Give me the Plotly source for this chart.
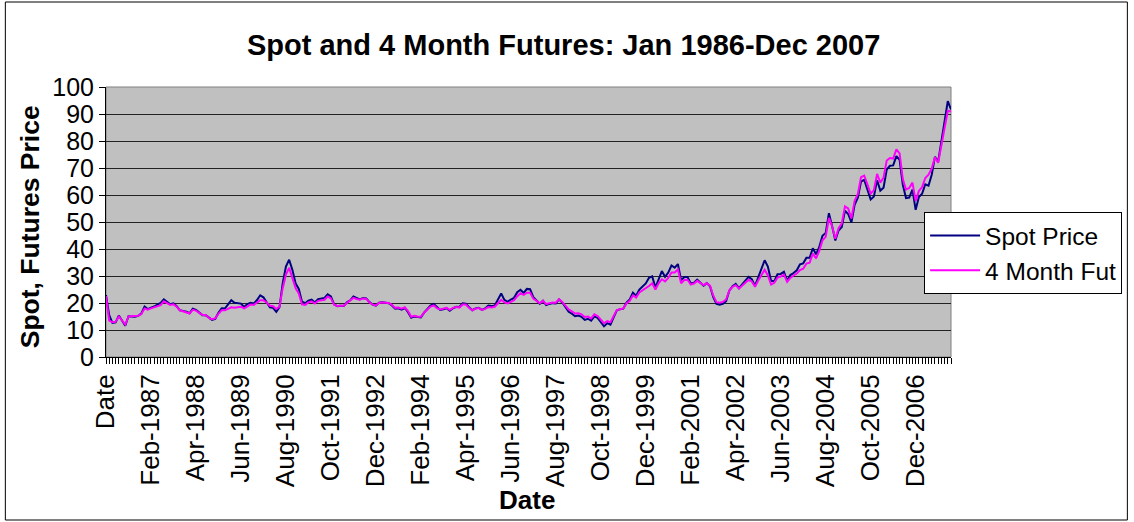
import plotly.graph_objects as go

months = ["Jan", "Feb", "Mar", "Apr", "May", "Jun", "Jul", "Aug", "Sep", "Oct", "Nov", "Dec"]
years = list(range(1986, 2008))

# category labels as in the source sheet: header "Date" then the months
categories = ["Date"] + [f"{m}-{y}" for y in years for m in months][:-1]

spot = [
    22.93, 15.46, 12.61, 12.84, 15.38, 13.43, 11.59, 15.10, 14.87, 14.90, 15.22, 16.11,
    18.65, 17.75, 18.30, 18.68, 19.44, 20.07, 21.34, 20.31, 19.53, 19.86, 18.85, 17.28,
    17.13, 16.80, 16.20, 17.86, 17.42, 16.53, 15.50, 15.52, 14.54, 13.77, 14.14, 16.38,
    18.02, 17.94, 19.48, 21.07, 20.12, 20.05, 19.78, 18.58, 19.59, 20.10, 19.86, 21.10,
    22.86, 22.11, 20.39, 18.43, 18.20, 16.70, 18.45, 27.31, 33.51, 36.04, 32.33, 27.28,
    25.23, 20.48, 19.90, 20.83, 21.23, 20.19, 21.40, 21.69, 21.89, 23.23, 22.46, 19.50,
    18.79, 19.01, 18.92, 20.23, 20.98, 22.39, 21.78, 21.34, 21.88, 21.69, 20.34, 19.41,
    19.03, 20.09, 20.32, 20.25, 19.95, 19.09, 17.89, 18.01, 17.50, 18.15, 16.61, 14.52,
    15.03, 14.78, 14.68, 16.42, 17.89, 19.06, 19.66, 18.38, 17.45, 17.72, 18.07, 17.16,
    18.04, 18.57, 18.54, 19.90, 19.74, 18.45, 17.33, 18.02, 18.23, 17.43, 17.99, 19.03,
    18.85, 19.09, 21.33, 23.50, 21.17, 20.42, 21.30, 21.90, 23.97, 24.88, 23.71, 25.23,
    25.13, 22.18, 20.97, 19.70, 20.82, 19.26, 19.66, 19.95, 19.80, 21.33, 20.19, 18.33,
    16.72, 16.06, 15.12, 15.35, 14.91, 13.72, 14.17, 13.47, 15.03, 14.46, 13.00, 11.35,
    12.52, 12.01, 14.68, 17.31, 17.72, 17.92, 20.10, 21.28, 23.80, 22.69, 25.00, 26.10,
    27.26, 29.37, 29.84, 25.72, 28.79, 31.82, 29.70, 31.26, 33.88, 33.11, 34.42, 28.44,
    29.59, 29.61, 27.25, 27.49, 28.63, 27.60, 26.43, 27.37, 26.20, 22.17, 19.64, 19.39,
    19.72, 20.72, 24.53, 26.18, 27.04, 25.52, 26.97, 28.39, 29.66, 28.84, 26.35, 29.46,
    32.95, 35.83, 33.51, 28.17, 28.11, 30.66, 30.76, 31.57, 28.31, 30.34, 31.11, 32.13,
    34.31, 34.69, 36.74, 36.75, 40.28, 38.03, 40.78, 44.90, 45.94, 53.28, 48.47, 43.15,
    46.84, 48.15, 54.19, 52.98, 49.83, 56.35, 59.00, 64.99, 65.59, 62.26, 58.32, 59.41,
    65.49, 61.63, 62.69, 69.44, 70.84, 70.95, 74.41, 73.04, 63.80, 58.89, 59.08, 61.96,
    54.51, 59.28, 60.44, 63.98, 63.46, 67.49, 74.12, 72.36, 79.92, 85.80, 94.77, 91.69,
]

fut4 = [
    22.5, 13.5, 12.9, 13.0, 15.0, 13.5, 12.0, 15.0, 15.0, 15.2, 15.3, 15.9,
    18.0, 17.5, 18.0, 18.4, 18.8, 19.2, 20.6, 19.8, 19.3, 19.5, 18.6, 17.3,
    16.9, 16.6, 16.1, 17.5, 17.2, 16.4, 15.6, 15.6, 14.5, 14.0, 14.3, 16.0,
    17.3, 17.3, 18.0, 18.4, 18.2, 18.5, 18.6, 18.0, 18.8, 19.4, 19.3, 20.0,
    21.0, 21.0, 20.2, 19.0, 18.8, 17.8, 18.6, 25.5, 30.5, 33.0, 29.5, 25.5,
    23.5, 19.5, 19.3, 20.2, 20.6, 19.8, 20.8, 21.0, 21.2, 22.4, 21.7, 19.4,
    18.9, 19.0, 19.0, 20.0, 20.8, 21.9, 21.5, 21.2, 21.7, 21.5, 20.2, 19.4,
    19.1, 20.0, 20.2, 20.2, 20.0, 19.3, 18.2, 18.3, 17.9, 18.4, 17.0, 14.9,
    15.3, 14.9, 14.9, 16.4, 17.7, 18.7, 19.1, 18.1, 17.6, 17.9, 18.2, 17.5,
    18.2, 18.5, 18.3, 19.4, 19.4, 18.2, 17.3, 17.9, 18.1, 17.4, 17.8, 18.5,
    18.3, 18.6, 19.9, 21.2, 20.2, 19.8, 20.4, 21.0, 22.5, 23.6, 23.0, 23.8,
    23.8, 21.6, 20.8, 19.9, 20.8, 19.6, 19.9, 20.2, 20.1, 21.4, 20.4, 18.9,
    17.6, 16.9, 16.1, 16.2, 15.8, 14.8, 15.0, 14.3, 15.8, 15.2, 13.9, 12.5,
    13.3, 12.9, 15.2, 17.4, 17.7, 18.0, 19.8, 20.8, 22.8, 22.0, 23.9, 24.6,
    25.3, 26.3, 27.3, 25.0, 27.3, 28.8, 28.0, 29.3, 31.3, 31.3, 32.4, 27.3,
    28.5, 28.6, 26.8, 27.2, 28.2, 27.5, 26.6, 27.3, 26.4, 22.8, 20.3, 20.1,
    20.4, 21.3, 24.6, 26.0, 26.6, 25.3, 26.4, 27.6, 28.6, 28.0, 26.0, 28.3,
    30.5, 32.3, 30.2, 26.8, 27.5, 29.4, 29.8, 30.5, 27.8, 29.3, 30.2, 30.9,
    32.2, 32.7, 34.6, 34.9, 38.3, 36.5, 39.3, 43.2, 44.5, 51.5, 48.4, 43.8,
    47.7, 49.4, 55.8, 55.0, 51.3, 57.8, 60.4, 66.6, 67.2, 63.9, 60.5, 61.8,
    67.8, 64.6, 66.4, 72.8, 73.7, 73.5, 76.9, 75.4, 65.9, 62.0, 62.6, 64.6,
    57.8, 61.5, 62.9, 66.3, 67.5, 69.8, 74.0, 71.9, 78.5, 84.2, 91.2, 90.9,
]

label_step = 14
tick_idx = list(range(0, len(categories), label_step))
tick_text = [categories[i] for i in tick_idx]
xs = list(range(len(categories)))

FONT = "Arial, 'Liberation Sans', sans-serif"

fig = go.Figure()
fig.add_trace(go.Scatter(x=xs, y=spot, mode="lines", name="Spot Price",
                         line=dict(color="#000080", width=2)))
fig.add_trace(go.Scatter(x=xs, y=fut4, mode="lines", name="4 Month Fut",
                         line=dict(color="#FF00FF", width=2)))

W, H = 1134, 522
L, R, T, B = 106, 954, 87, 357
pw, ph = R - L, B - T

def px(x):
    return (x - L) / pw

def py(y):
    return (B - y) / ph

fig.update_layout(
    width=W, height=H,
    margin=dict(l=L, r=W - R, t=T, b=H - B),
    paper_bgcolor="white",
    plot_bgcolor="#C0C0C0",
    font=dict(family=FONT, color="black"),
    showlegend=True,
    legend=dict(x=px(927), y=py(212), xanchor="left", yanchor="top",
                bgcolor="white", bordercolor="black", borderwidth=1,
                itemwidth=50, tracegroupgap=0,
                font=dict(size=24.5, family=FONT)),
    xaxis=dict(
        range=[0, len(categories) - 1],
        tickmode="array", tickvals=tick_idx, ticktext=tick_text,
        tickangle=-90, tickfont=dict(size=26, family=FONT),
        ticks="outside", ticklen=6, tickcolor="black",
        minor=dict(dtick=1, tick0=0, ticks="outside", ticklen=6, tickcolor="black", showgrid=False),
        showgrid=False, zeroline=False,
        showline=True, linecolor="black", linewidth=1,
    ),
    yaxis=dict(
        range=[0, 100], dtick=10, tick0=0,
        tickfont=dict(size=25, family=FONT),
        ticks="outside", ticklen=6, tickcolor="black",
        showgrid=True, gridcolor="#222222", gridwidth=1,
        zeroline=False,
        showline=True, linecolor="black", linewidth=1,
    ),
    shapes=[
        dict(type="rect", xref="paper", yref="paper", x0=0, x1=1, y0=0, y1=1,
             line=dict(color="#808080", width=1), layer="below"),
        dict(type="rect", xref="paper", yref="paper",
             x0=px(5), x1=px(1131), y0=py(520), y1=py(2),
             line=dict(color="black", width=1)),
    ],
    annotations=[
        dict(text="<b>Spot and 4 Month Futures: Jan 1986-Dec 2007</b>", xref="paper", yref="paper",
             x=px(565), y=py(45), xanchor="center", yanchor="middle", showarrow=False,
             font=dict(size=29, family=FONT)),
        dict(text="<b>Spot, Futures Price</b>", xref="paper", yref="paper",
             x=px(30), y=py(227), xanchor="center", yanchor="middle", showarrow=False,
             textangle=-90, font=dict(size=26.5, family=FONT)),
        dict(text="<b>Date</b>", xref="paper", yref="paper",
             x=px(528), y=py(500), xanchor="center", yanchor="middle", showarrow=False,
             font=dict(size=26, family=FONT)),
    ],
)

fig.write_html("out.html", config={"displayModeBar": False})

# remove the default page margin so the figure sits at the window origin
with open("out.html", "r", encoding="utf-8") as f:
    html = f.read()
html = html.replace("<head>", "<head><style>html,body{margin:0;padding:0;overflow:hidden;}</style>", 1)
with open("out.html", "w", encoding="utf-8") as f:
    f.write(html)
